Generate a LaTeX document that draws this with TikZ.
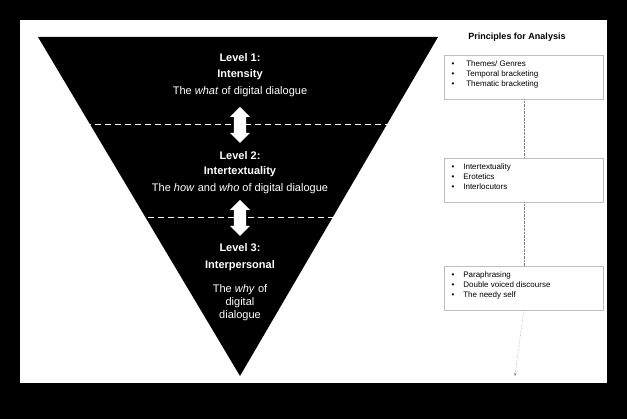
\documentclass[tikz,border=0pt]{standalone}
\usepackage{fontspec}
\setmainfont{Liberation Sans}
\usetikzlibrary{shapes.arrows,arrows.meta}
\begin{document}
\begin{tikzpicture}[x=1pt,y=-1pt,
  lvl/.style={text=white,font=\fontsize{11}{13}\selectfont,align=center},
  lvb/.style={lvl,font=\fontsize{11}{13}\selectfont\bfseries},
  box/.style={draw=black!25,fill=white,minimum width=159pt,minimum height=44pt,anchor=north west,inner sep=0pt},
  btxt/.style={font=\fontsize{8}{10}\selectfont,align=left,anchor=north west},
  wdash/.style={white,line width=1pt,dash pattern=on 6pt off 4pt},
  darr/.style={double arrow,fill=white,draw=none,minimum width=20pt,double arrow head extend=2pt,shape border rotate=90,minimum height=36pt,inner sep=3pt}]
\fill[black] (0,0) rectangle (627,419);
\fill[white] (20,20) rectangle (607,383);
\useasboundingbox (0,0) rectangle (627,419);
\fill[black] (38,37) -- (438,37) -- (240,376) -- cycle;
\draw[wdash] (35,125) -- (390,125);
\draw[wdash] (88,218) -- (336,218);
\node[darr] (a1) at (240,125) {};
\node[darr] (a2) at (240,218) {};
\node[lvb] (l1a) at (240,58) {Level 1:};
\node[lvb] (l1b) at (240,75) {Intensity};
\node[lvl] (l1c) at (240,92) {The \emph{what} of digital dialogue};
\node[lvb] (l2a) at (240,156) {Level 2:};
\node[lvb] (l2b) at (240,172) {Intertextuality};
\node[lvl] (l2c) at (240,189) {The \emph{how} and \emph{who} of digital dialogue};
\node[lvb] (l3a) at (240,248) {Level 3:};
\node[lvb] (l3b) at (240,266) {Interpersonal};
\node[lvl] (l3c) at (240,303) {The \emph{why} of\\digital\\dialogue};
\node[font=\fontsize{9}{11}\selectfont\bfseries] (title) at (517,37) {Principles for Analysis};
\node[box] (b1) at (444,55) {};
\node[box] (b2) at (444,158) {};
\node[box] (b3) at (444,266) {};
\node[btxt] at (448,57) {\textbullet\hspace{12pt}Themes/ Genres\\\textbullet\hspace{12pt}Temporal bracketing\\\textbullet\hspace{12pt}Thematic bracketing};
\node[btxt] at (448,160) {\textbullet\hspace{9pt}Intertextuality\\\textbullet\hspace{9pt}Erotetics\\\textbullet\hspace{9pt}Interlocutors};
\node[btxt] at (448,268) {\textbullet\hspace{9pt}Paraphrasing\\\textbullet\hspace{9pt}Double voiced discourse\\\textbullet\hspace{9pt}The needy self};
\coordinate (end) at (515,376);
\draw[gray,densely dotted] (b1.south) -- (b2.north);
\draw[gray,densely dotted] (b2.south) -- (b3.north);
\draw[gray,densely dotted,-{Stealth[length=3pt,width=2.5pt]}] (b3.south) -- (end);
\end{tikzpicture}
\end{document}
